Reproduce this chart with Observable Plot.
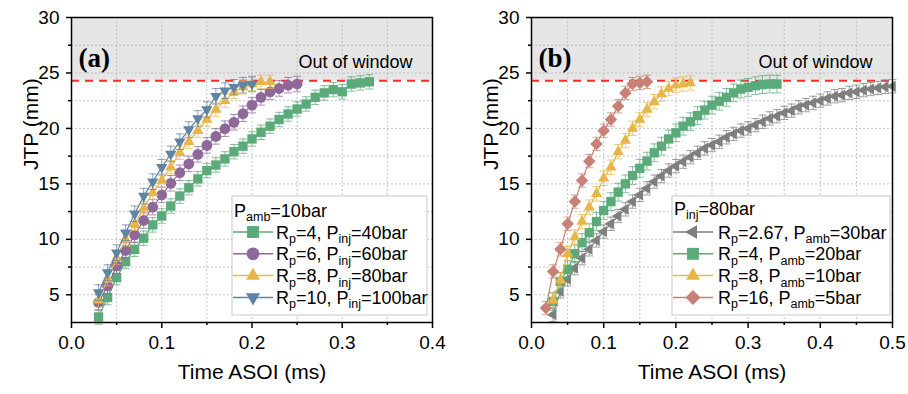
<!DOCTYPE html>
<html>
<head>
<meta charset="utf-8">
<script src="https://cdn.jsdelivr.net/npm/d3@7"></script>
<script src="https://cdn.jsdelivr.net/npm/@observablehq/plot@0.6"></script>
<style>
  html, body { margin: 0; padding: 0; background: #fff; }
  #wrap { display: flex; width: 908px; height: 394px; overflow: hidden; }
  svg { display: block; }
</style>
</head>
<body>
<div id="wrap"></div>
<script>
// ---------- data ----------
const cutoff = 24.3;          // window limit (mm)
const timeStep = 0.01;        // ms between frames

// Panel (a): Pamb = 10 bar
const aRp   = ["4", "6", "8", "10"];
const aPinj = ["40", "60", "80", "100"];
const aStart = [0.03, 0.03, 0.03, 0.03];
const aGreen  = [3.0, 4.75, 6.55, 8.0, 9.1, 10.1, 11.3, 12.1, 13.0, 13.9, 14.65, 15.45, 16.2, 16.7, 17.25, 17.9, 18.4, 19.05, 19.65, 20.2, 20.8, 21.3, 21.75, 22.2, 22.8, 23.2, 23.5, 23.3, 24.0, 24.1, 24.2];
const aPurple = [4.3, 5.8, 7.6, 9.0, 10.4, 11.7, 12.9, 14.0, 15.05, 16.0, 16.8, 17.66, 18.47, 19.28, 19.97, 20.55, 21.32, 22.1, 22.8, 23.3, 23.6, 23.9, 24.0];
const aYellow = [4.5, 6.4, 8.3, 10.0, 11.4, 12.8, 14.2, 15.3, 16.5, 17.8, 18.8, 19.8, 20.8, 21.7, 22.5, 23.3, 23.7, 24.0, 24.2, 24.2];
const aBlue   = [5.2, 7.0, 8.8, 10.6, 12.3, 13.9, 15.2, 16.5, 17.7, 18.8, 19.9, 20.9, 21.7, 22.9, 23.4, 23.7, 23.9, 24.0];
const aErr = [0.65, 0.7, 0.6, 0.7];

// Panel (b): Pinj = 80 bar
const bRp   = ["2.67", "4", "8", "16"];
const bPamb = ["30", "20", "10", "5"];
const bStart = [0.03, 0.03, 0.03, 0.02];
const bGray   = [3.2, 5.3, 6.4, 7.4, 8.3, 9.1, 9.9, 10.7, 11.4, 12.1, 12.7, 13.4, 14.0, 14.6, 15.2, 15.7, 16.2, 16.6, 17.0, 17.4, 17.8, 18.2, 18.5, 18.8, 19.2, 19.5, 19.8, 20.0, 20.3, 20.6, 20.9, 21.1, 21.4, 21.6, 21.9, 22.1, 22.3, 22.5, 22.7, 22.9, 23.0, 23.2, 23.3, 23.45, 23.55, 23.65, 23.75, 23.8];
const bGreen  = [4.4, 6.2, 7.3, 8.7, 9.7, 10.6, 11.6, 12.6, 13.4, 14.25, 15.0, 15.75, 16.4, 17.05, 17.8, 18.4, 19.05, 19.6, 20.2, 20.6, 21.15, 21.65, 22.1, 22.45, 22.8, 23.2, 23.55, 23.7, 23.85, 23.95, 24.0, 24.0];
const bYellow = [4.5, 6.3, 8.7, 10.2, 11.6, 12.9, 14.1, 15.5, 16.5, 17.9, 18.9, 20.0, 20.8, 21.7, 22.4, 23.1, 23.6, 23.9, 24.0, 24.1];
const bPink   = [3.8, 7.1, 9.1, 11.4, 13.4, 15.3, 17.05, 18.6, 19.8, 20.8, 22.0, 23.2, 24.0, 24.1, 24.2];
const bErr = [0.6, 0.8, 0.65, 0.6];

const colGreen = "#5baa7a", colPurple = "#8d6899", colYellow = "#e8b648",
      colBlue = "#5e83a3", colPink = "#c98076", colGray = "#7f7f7f";

const yTicks = [5, 10, 15, 20, 25, 30];
const yMinor = [7.5, 12.5, 17.5, 22.5, 27.5];
const yGrid  = [5, 7.5, 10, 12.5, 15, 17.5, 20, 22.5, 25, 27.5];
const aXTicks = [0, 0.1, 0.2, 0.3, 0.4];
const aXMinor = [0.05, 0.15, 0.25, 0.35];
const bXTicks = [0, 0.1, 0.2, 0.3, 0.4, 0.5];
const bXMinor = [0.05, 0.15, 0.25, 0.35, 0.45];

// ---------- symbols ----------
const SYM = {
  square: {draw(c, size) { const s = Math.sqrt(size / Math.PI) * 0.9; c.rect(-s, -s, 2 * s, 2 * s); }},
  circle: {draw(c, size) { const r = Math.sqrt(size / Math.PI); c.moveTo(r, 0); c.arc(0, 0, r, 0, 2 * Math.PI); }},
  triUp: {draw(c, size) { const R = Math.sqrt(size / Math.PI) * 1.3, h = R * Math.sqrt(3) / 2; c.moveTo(0, -R); c.lineTo(h, R / 2); c.lineTo(-h, R / 2); c.closePath(); }},
  triDown: {draw(c, size) { const R = Math.sqrt(size / Math.PI) * 1.3, h = R * Math.sqrt(3) / 2; c.moveTo(0, R); c.lineTo(h, -R / 2); c.lineTo(-h, -R / 2); c.closePath(); }},
  triLeft: {draw(c, size) { const R = Math.sqrt(size / Math.PI) * 1.3, h = R * Math.sqrt(3) / 2; c.moveTo(-R, 0); c.lineTo(R / 2, -h); c.lineTo(R / 2, h); c.closePath(); }},
  diamond: {draw(c, size) { const D = Math.sqrt(size / Math.PI) * 1.25; c.moveTo(0, -D); c.lineTo(D, 0); c.lineTo(0, D); c.lineTo(-D, 0); c.closePath(); }},
  cap: {draw(c, size) { const w = Math.sqrt(size / Math.PI); c.moveTo(-w, 0); c.lineTo(w, 0); }}
};
function symPath(sym, r) { const p = d3.path(); sym.draw(p, Math.PI * r * r); return p.toString(); }

const FONT = "'Liberation Sans', Arial, sans-serif";

function rows(values, start, err) {
  return values.map((v, i) => ({t: +(start + i * timeStep).toFixed(3), v, e: err}));
}

function seriesMarks(data, color, sym, r) {
  return [
    Plot.line(data, {x: "t", y: "v", stroke: color, strokeWidth: 1.2}),
    Plot.ruleX(data, {x: "t", y1: d => d.v - d.e, y2: d => d.v + d.e, stroke: color, strokeWidth: 1, strokeOpacity: 0.75}),
    Plot.dot(data, {x: "t", y: d => d.v + d.e, symbol: SYM.cap, r: 4, stroke: color, strokeWidth: 1, strokeOpacity: 0.75, fill: "none"}),
    Plot.dot(data, {x: "t", y: d => d.v - d.e, symbol: SYM.cap, r: 4, stroke: color, strokeWidth: 1, strokeOpacity: 0.75, fill: "none"}),
    Plot.dot(data, {x: "t", y: "v", symbol: sym, r, fill: color, stroke: "none"})
  ];
}

function panel({width, marginRight, xDomain, xTicks, xMinor, series, tag}) {
  return Plot.plot({
    width, height: 394,
    marginLeft: 71, marginRight, marginTop: 17, marginBottom: 72,
    style: {fontFamily: FONT, fontSize: "19px", color: "#000", background: "#fff", overflow: "visible"},
    x: {domain: xDomain, label: null},
    y: {domain: [2.5, 30], label: null},
    marks: [
      Plot.rect([{x1: xDomain[0], x2: xDomain[1], y1: cutoff, y2: 30}], {x1: "x1", x2: "x2", y1: "y1", y2: "y2", fill: "#e6e6e6"}),
      Plot.gridX(xTicks.concat(xMinor), {stroke: "#b4b4b4", strokeOpacity: 1, strokeWidth: 0.8, strokeDasharray: "2,2"}),
      Plot.gridY(yGrid, {stroke: "#b4b4b4", strokeOpacity: 1, strokeWidth: 0.8, strokeDasharray: "2,2"}),
      Plot.ruleY([cutoff], {stroke: "#ff2a2a", strokeWidth: 2, strokeDasharray: "8,6"}),
      ...series.flatMap(s => seriesMarks(s.data, s.color, s.sym, s.r)),
      Plot.axisX({ticks: xTicks, tickFormat: ".1f", tickSize: 6, tickPadding: 7, strokeWidth: 1.5, fontSize: 19, label: null}),
      Plot.axisX({ticks: xMinor, tickFormat: () => "", tickSize: 3, strokeWidth: 1.5, label: null}),
      Plot.axisY({ticks: yTicks, tickSize: 5, tickPadding: 7, strokeWidth: 1.5, fontSize: 19, label: null}),
      Plot.axisY({ticks: yMinor, tickFormat: () => "", tickSize: 3, strokeWidth: 1.5, label: null}),
      Plot.frame({stroke: "#000", strokeWidth: 1.5}),
      Plot.text(["Out of window"], {frameAnchor: "top-right", dx: -20, dy: 38, textAnchor: "end", fontSize: 18}),
      Plot.text([tag], {frameAnchor: "top-left", dx: 7, dy: 30, textAnchor: "start", fontSize: 27, fontWeight: "bold", fontFamily: "'Liberation Serif', 'Times New Roman', serif"}),
      Plot.text(["Time ASOI (ms)"], {frameAnchor: "bottom", dy: 56, fontSize: 21}),
      Plot.text(["JTP (mm)"], {frameAnchor: "left", dx: -40, rotate: -90, fontSize: 21})
    ]
  });
}

function rich(g, x, y, parts) {
  const t = g.append("text").attr("x", x).attr("y", y).attr("text-anchor", "start");
  let low = false;
  for (const [s, sub] of parts) {
    const ts = t.append("tspan").text(s).attr("font-size", sub ? 12.5 : 18);
    if (sub && !low) { ts.attr("dy", 4.5); low = true; }
    else if (!sub && low) { ts.attr("dy", -4.5); low = false; }
  }
}

function addLegend(svgNode, cfg) {
  const g = d3.select(svgNode).append("g").attr("font-family", FONT).attr("fill", "#000").attr("text-anchor", "start");
  g.append("rect").attr("x", cfg.x).attr("y", cfg.y).attr("width", cfg.w).attr("height", cfg.h)
    .attr("fill", "#fff").attr("stroke", "#c8c8c8").attr("stroke-width", 1);
  rich(g, cfg.x + 2, cfg.titleY + 6.5, cfg.title);
  cfg.rows.forEach((row, i) => {
    const cy = cfg.rowY0 + i * cfg.rowStep;
    g.append("line").attr("x1", cfg.x + 1).attr("x2", cfg.x + 41).attr("y1", cy).attr("y2", cy)
      .attr("stroke", row.color).attr("stroke-width", 1.5);
    g.append("path").attr("d", symPath(row.sym, row.r)).attr("transform", `translate(${cfg.x + 21},${cy})`).attr("fill", row.color);
    rich(g, cfg.x + cfg.textDx, cy + 6.5, row.parts);
  });
}

// ---------- panel (a) ----------
const aSeries = [
  {data: rows(aGreen, aStart[0], aErr[0]), color: colGreen, sym: SYM.square, r: 5.2, lr: 6.6},
  {data: rows(aPurple, aStart[1], aErr[1]), color: colPurple, sym: SYM.circle, r: 5.4, lr: 6.4},
  {data: rows(aYellow, aStart[2], aErr[2]), color: colYellow, sym: SYM.triUp, r: 5.0, lr: 6.2},
  {data: rows(aBlue, aStart[3], aErr[3]), color: colBlue, sym: SYM.triDown, r: 5.0, lr: 6.2}
];
const plotA = panel({width: 460, marginRight: 28, xDomain: [0, 0.4], xTicks: aXTicks, xMinor: aXMinor, series: aSeries, tag: "(a)"});
addLegend(plotA, {
  x: 232, y: 196, w: 195, h: 119, titleY: 210, rowY0: 232, rowStep: 21.8, textDx: 44,
  title: [["P"], ["amb", true], ["=10bar"]],
  rows: aSeries.map((s, i) => ({color: s.color, sym: s.sym, r: s.lr,
    parts: [["R"], ["p", true], ["=" + aRp[i] + ", P"], ["inj", true], ["=" + aPinj[i] + "bar"]]}))
});

// ---------- panel (b) ----------
const bSeries = [
  {data: rows(bGray, bStart[0], bErr[0]), color: colGray, sym: SYM.triLeft, r: 5.0, lr: 6.2},
  {data: rows(bGreen, bStart[1], bErr[1]), color: colGreen, sym: SYM.square, r: 5.2, lr: 6.6},
  {data: rows(bYellow, bStart[2], bErr[2]), color: colYellow, sym: SYM.triUp, r: 5.0, lr: 6.2},
  {data: rows(bPink, bStart[3], bErr[3]), color: colPink, sym: SYM.diamond, r: 5.0, lr: 6.0}
];
const plotB = panel({width: 448, marginRight: 16, xDomain: [0, 0.5], xTicks: bXTicks, xMinor: bXMinor, series: bSeries, tag: "(b)"});
addLegend(plotB, {
  x: 212, y: 196, w: 218, h: 119, titleY: 208, rowY0: 232, rowStep: 21.8, textDx: 46,
  title: [["P"], ["inj", true], ["=80bar"]],
  rows: bSeries.map((s, i) => ({color: s.color, sym: s.sym, r: s.lr,
    parts: [["R"], ["p", true], ["=" + bRp[i] + ", P"], ["amb", true], ["=" + bPamb[i] + "bar"]]}))
});

document.getElementById("wrap").append(plotA, plotB);
</script>
</body>
</html>
